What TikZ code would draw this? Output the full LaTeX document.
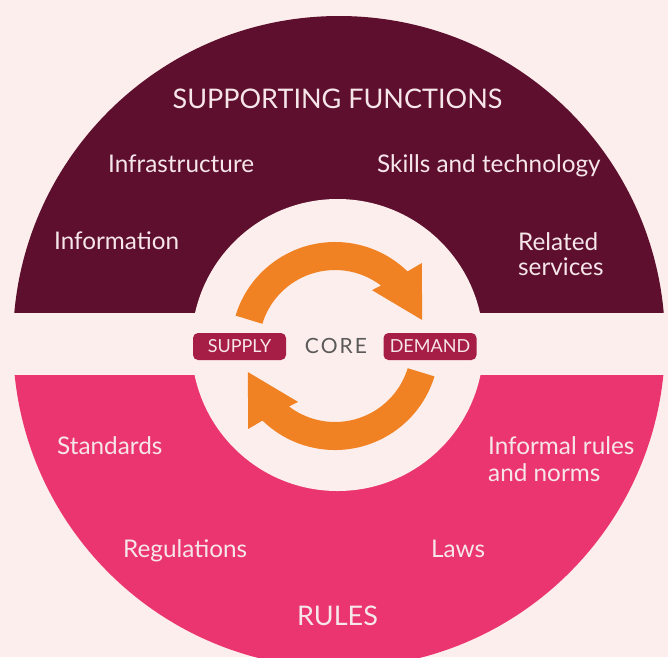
\documentclass[tikz,border=0pt]{standalone}
\usepackage{fontspec}
\setmainfont{Lato}
\definecolor{pagebg}{HTML}{FCEEEC}
\definecolor{maroon}{HTML}{5E0F2E}
\definecolor{rose}{HTML}{EB3570}
\definecolor{flow}{HTML}{F08224}
\definecolor{badge}{HTML}{A61D45}
\definecolor{labeltext}{HTML}{F6E6EA}
\definecolor{coretext}{HTML}{5A5A5A}
\begin{document}
\begin{tikzpicture}[x=1pt,y=-1pt,
  lbl/.style={anchor=base west, inner sep=0pt, text=labeltext,
    font=\fontsize{24.3}{28}\selectfont},
  heading/.style={anchor=base, inner sep=0pt, text=labeltext,
    font=\fontsize{27}{31}\selectfont},
  tag/.style={fill=badge, rounded corners=5pt, text=labeltext,
    minimum width=93pt, minimum height=27pt, inner sep=0pt,
    font=\fontsize{18}{21}\selectfont},
  arrowbody/.style={fill=flow}]
% canvas
\fill[pagebg] (0,0) rectangle (668,657);
\useasboundingbox (0,0) rectangle (668,657);
% upper half: supporting functions
\begin{scope}
  \clip (0,0) rectangle (668,312);
  \fill[maroon] (339,342) circle (326);
\end{scope}
% lower half: rules
\begin{scope}
  \clip (0,375) rectangle (668,657);
  \fill[rose] (339,342) circle (326);
\end{scope}
% core disc
\fill[pagebg] (337.5,345) circle (146);
% circular flow arrows
\begin{scope}[shift={(335,346)}, yscale=-1]
  \foreach \turn in {0,180} {
    \begin{scope}[rotate=\turn]
      \fill[arrowbody] (163:104) arc[start angle=163, end angle=45.8, radius=104]
        -- (43.7:120) -- (16.6:91) -- (56.5:67) -- (52.7:76)
        arc[start angle=52.7, end angle=163, radius=76] -- cycle;
    \end{scope}
  }
\end{scope}
% headings
\node[heading] (sf) at (337.5,108) {SUPPORTING FUNCTIONS};
\node[heading] (rules) at (337.5,625) {RULES};
% supporting functions
\node[lbl] (infra) at (108,172) {Infrastructure};
\node[lbl] (info) at (54,249) {Information};
\node[lbl] (skills) at (377,172) {Skills and technology};
\node[lbl] (rel1) at (518,250) {Related};
\node[lbl] (rel2) at (518,275) {services};
% rules
\node[lbl] (std) at (57,454) {Standards};
\node[lbl] (inf1) at (488,454) {Informal rules};
\node[lbl] (inf2) at (488,481) {and norms};
\node[lbl] (reg) at (123,557) {Regulations};
\node[lbl] (laws) at (431,557) {Laws};
% core
\node[tag] (supply) at (239.5,346.5) {SUPPLY};
\node[tag] (demand) at (430,346.5) {DEMAND};
\node[anchor=base, inner sep=0pt, text=coretext,
  font=\fontsize{21}{25}\selectfont\addfontfeatures{LetterSpace=10}] (core) at (336,353) {CORE};
\end{tikzpicture}
\end{document}
